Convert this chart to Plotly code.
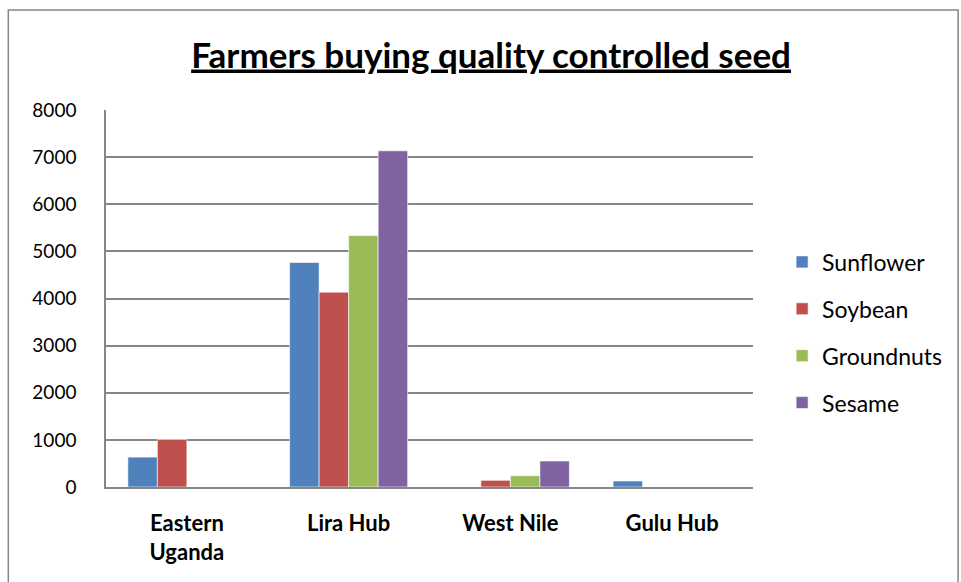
import plotly.graph_objects as go

categories = ["Eastern<br>Uganda", "Lira Hub", "West Nile", "Gulu Hub"]
series_names = ["Sunflower", "Soybean", "Groundnuts", "Sesame"]
sunflower = [635, 4765, 0, 127]
soybean = [1010, 4135, 142, 0]
groundnuts = [0, 5335, 240, 0]
sesame = [0, 7134, 552, 0]
colors = ["#4F81BD", "#C0504D", "#9BBB59", "#8064A2"]
y_ticks = [0, 1000, 2000, 3000, 4000, 5000, 6000, 7000, 8000]

font_family = "Lato, Carlito, Calibri, sans-serif"

fig = go.Figure()
for i, (name, vals) in enumerate(zip(series_names, [sunflower, soybean, groundnuts, sesame])):
    fig.add_trace(go.Bar(
        x=categories, y=vals, name=name,
        marker=dict(color=colors[i], line=dict(color="white", width=0.6)),
        legendgroup=name,
    ))

fig.update_layout(
    width=961, height=582,
    margin=dict(l=106, r=208, t=110, b=95, autoexpand=False),
    paper_bgcolor="white", plot_bgcolor="white",
    barmode="group", bargap=0.27, bargroupgap=0,
    font=dict(family=font_family, color="black"),
    title=dict(
        text="<b><u>Farmers buying quality controlled seed</u></b>",
        x=0.511, xanchor="center", y=0.905, yanchor="middle",
        font=dict(size=35, family=font_family, color="black"),
    ),
    showlegend=True,
    legend=dict(
        x=1.045, xanchor="left", y=0.41, yanchor="middle",
        font=dict(size=23, family=font_family),
        tracegroupgap=14,
        itemwidth=30,
        bgcolor="rgba(0,0,0,0)",
    ),
    xaxis=dict(
        showline=True, linecolor="#868686", linewidth=1.5,
        tickfont=dict(size=22, family=font_family),
        ticks="outside", ticklen=16, tickcolor="rgba(0,0,0,0)",
        showgrid=False,
        tickprefix="<b>", ticksuffix="</b>",
    ),
    yaxis=dict(
        range=[0, 8000], tickvals=y_ticks,
        showline=True, linecolor="#868686", linewidth=1.5,
        showgrid=True, gridcolor="#868686", gridwidth=1.5,
        tickfont=dict(size=19, family=font_family),
        ticks="outside", ticklen=24, tickcolor="rgba(0,0,0,0)",
        zeroline=False,
    ),
    shapes=[dict(
        type="rect", xref="paper", yref="paper",
        x0=-0.151, x1=1.317, y0=-0.3, y1=1.265,
        line=dict(color="#868686", width=1.5), fillcolor="rgba(0,0,0,0)",
        layer="below",
    )],
)

fig.write_html("out.html")
